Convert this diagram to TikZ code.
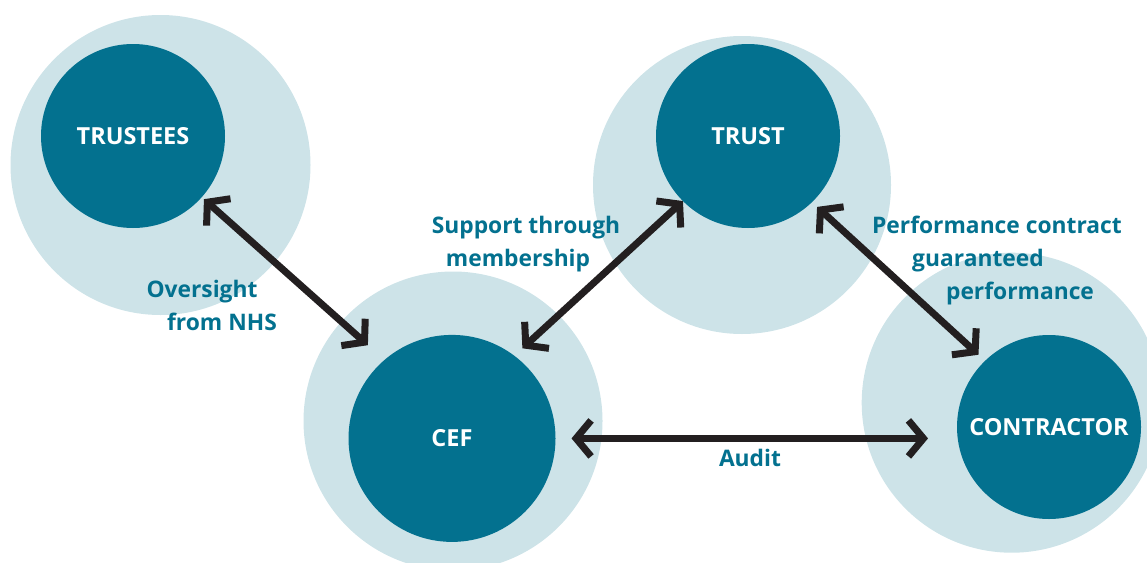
\documentclass[tikz,border=0pt]{standalone}
\usepackage{fontspec}
\setmainfont{Open Sans}
\usetikzlibrary{arrows.meta,calc}
\definecolor{teal1}{HTML}{03718F}
\definecolor{pale}{HTML}{CDE3E8}
\definecolor{arrowc}{HTML}{231F20}
\tikzset{
  bgc/.style={circle, fill=pale, draw=none, inner sep=0pt, outer sep=0pt},
  hub/.style={circle, fill=teal1, draw=none, inner sep=0pt, outer sep=0pt, text=white,
    font=\bfseries\fontsize{23.5}{27}\selectfont},
  lbl/.style={text=teal1, anchor=base, inner sep=0pt,
    font=\bfseries\fontsize{22.8}{27}\selectfont},
  barb/.tip={Straight Barb[length=15pt,width=36pt,sharp]},
  arr/.style={draw=arrowc, line width=7pt, barb-barb}
}
\begin{document}
\begin{tikzpicture}[x=1pt,y=-1pt]
\useasboundingbox (0,0) rectangle (1147,562);
% background circles
\node[bgc, minimum size=300pt] (trusteesbg) at (160.5,165) {};
\node[bgc, minimum size=298pt] (trustbg) at (742,185) {};
\node[bgc, minimum size=299pt] (cefbg) at (453,421) {};
\node[bgc, minimum size=300pt] (contractorbg) at (1011.7,402.7) {};
% hubs
\node[hub, minimum size=184pt] (trustees) at (133,136) {TRUSTEES};
\node[hub, minimum size=184pt] (trust) at (748,136) {TRUST};
\node[hub, minimum size=207pt] (cef) at (452,438.4) {CEF};
\node[hub, minimum size=184pt] (contractor) at (1049,427) {CONTRACTOR};
% connectors
\draw[arr] ($(trustees)!95pt!(cefbg)$) -- ($(cefbg)!114pt!(trustees)$);
\draw[arr, shorten >=11pt] (trust.-135) -- (cef.53);
\draw[arr, shorten <=7pt, shorten >=9pt] (trust.-46) -- (contractor.134);
\draw[arr, shorten <=16pt, shorten >=29pt] (cef.east) -- (cef.east -| contractor.west);
% labels
\node[lbl] (l1a) at (202,297) {Oversight};
\node[lbl] (l1b) at (222,330) {from NHS};
\node[lbl] (l2a) at (526,233) {Support through};
\node[lbl] (l2b) at (518,266.7) {membership};
\node[lbl] (l3a) at (997,233) {Performance contract};
\node[lbl] (l3b) at (978,266) {guaranteed};
\node[lbl] (l3c) at (1020,299) {performance};
\node[lbl] (l4) at (750,466.7) {Audit};
\end{tikzpicture}
\end{document}
